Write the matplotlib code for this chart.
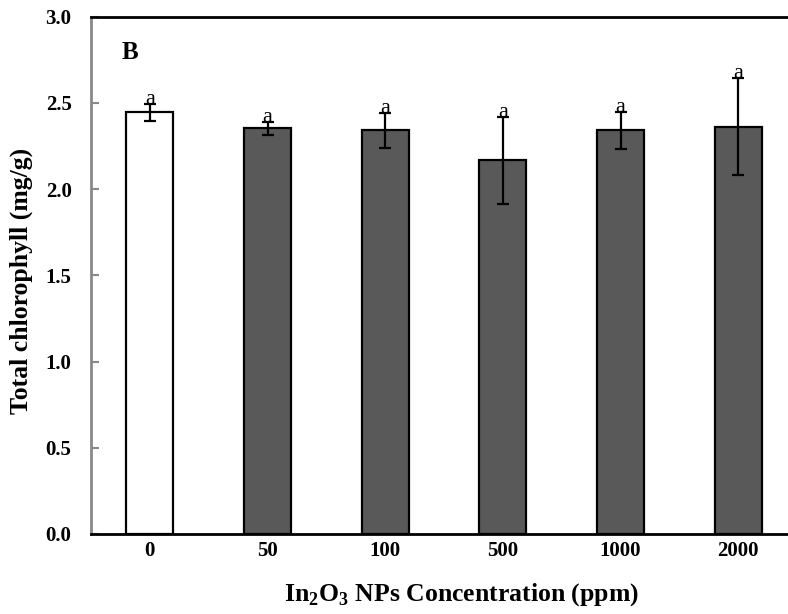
import matplotlib
matplotlib.use('Agg')
import matplotlib.pyplot as plt
import numpy as np

plt.rcParams['font.family'] = ['Liberation Serif', 'DejaVu Serif']
plt.rcParams['mathtext.fontset'] = 'custom'
plt.rcParams['mathtext.rm'] = 'Liberation Serif:bold'
plt.rcParams['mathtext.bf'] = 'Liberation Serif:bold'

# total chlorophyll under In2O3 nanoparticle treatment
conc = ['0', '50', '100', '500', '1000', '2000']
chl = [2.444, 2.353, 2.340, 2.166, 2.340, 2.361]
chl_err = [0.048, 0.038, 0.101, 0.254, 0.107, 0.282]
letters = ['a', 'a', 'a', 'a', 'a', 'a']
colors = ['white', '#595959', '#595959', '#595959', '#595959', '#595959']

fig = plt.figure(figsize=(7.88, 6.14), dpi=100, facecolor='white')
ax = fig.add_axes([0.1155, 0.1303, 0.896, 0.8428])

x = np.arange(len(conc))
ax.bar(x, chl, width=0.4, color=colors, edgecolor='black', linewidth=1.6, zorder=2)
ax.errorbar(x, chl, yerr=chl_err, fmt='none', ecolor='black', elinewidth=1.6,
            capsize=4.5, capthick=1.6, zorder=3)
for i in range(len(conc)):
    ax.text(x[i], chl[i] + chl_err[i], letters[i], ha='center', va='baseline',
            fontsize=16, zorder=4)

ax.set_xlim(-0.5, 5.5)
ax.set_ylim(0, 3.0)
ax.set_yticks(np.arange(0, 3.01, 0.5))
ax.set_yticklabels(['%.1f' % v for v in np.arange(0, 3.01, 0.5)],
                   fontsize=15, fontweight='bold')
ax.set_xticks(x)
ax.set_xticklabels(conc, fontsize=15, fontweight='bold')
ax.tick_params(axis='x', length=0, pad=5)
ax.tick_params(axis='y', direction='in', length=6, width=1.5, color='#888888', pad=14)

ax.spines['left'].set_color('#888888')
ax.spines['left'].set_linewidth(2)
ax.spines['top'].set_linewidth(2)
ax.spines['bottom'].set_linewidth(2)
ax.spines['right'].set_visible(False)

ax.set_ylabel('Total chlorophyll (mg/g)', fontsize=18.5, fontweight='bold')
ax.yaxis.set_label_coords(-0.082, 0.489)
ax.set_xlabel(r'In$_{2}$O$_{3}$ NPs Concentration (ppm)', fontsize=18.5, fontweight='bold')
ax.xaxis.set_label_coords(0.524, -0.091)

ax.text(0.055, 0.931, 'B', transform=ax.transAxes, ha='center', va='center',
        fontsize=18, fontweight='bold')

plt.savefig('out.png', dpi=100, facecolor='white')
